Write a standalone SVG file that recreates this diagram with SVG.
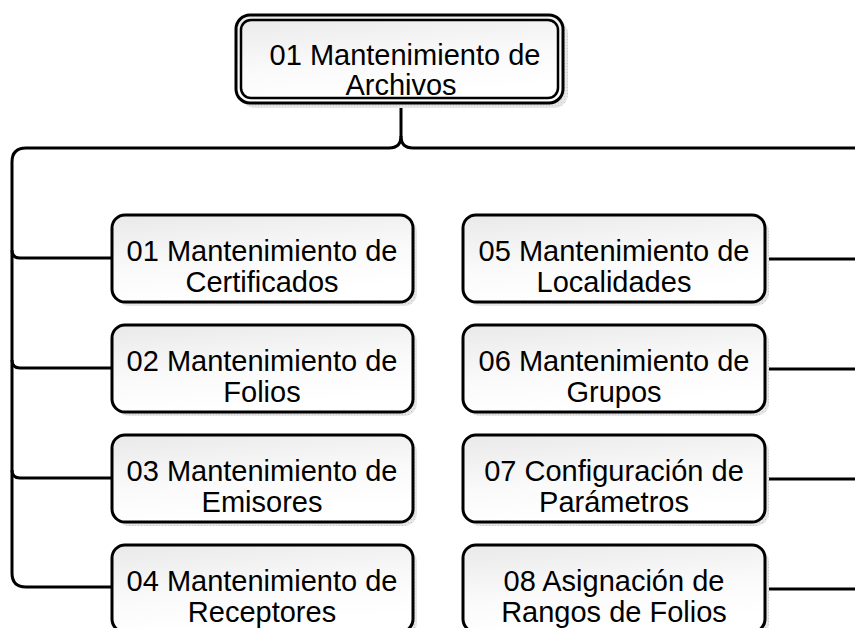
<svg xmlns="http://www.w3.org/2000/svg" width="855" height="628" viewBox="0 0 855 628">
<style>
.box{fill:url(#g);stroke:#000;stroke-width:3}
.sh{fill:url(#hatch)}
.t{font-family:"Liberation Sans",Arial,sans-serif;font-size:29px;fill:#000;text-anchor:middle}
.c{fill:none;stroke:#000;stroke-width:3}
</style>
<defs>
<linearGradient id="g" x1="0" y1="0" x2="0.3" y2="1">
<stop offset="0" stop-color="#e9e9e9"/>
<stop offset="0.6" stop-color="#fafafa"/>
<stop offset="1" stop-color="#ffffff"/>
</linearGradient>
<pattern id="hatch" width="3" height="3" patternUnits="userSpaceOnUse">
<rect width="3" height="3" fill="#e6e6e6"/>
<rect width="1" height="1" fill="#c8c8c8"/>
</pattern>
</defs>
<rect width="855" height="628" fill="#fff"/>
<g id="connectors">
<path class="c" d="M401,103 V136 Q401,148 389,148 H26 Q12,148 12,162 V573 Q12,587 26,587 H112"/>
<path class="c" d="M401,136 Q401,148 413,148 H855"/>
<path class="c" d="M12,250 Q12,258 20,258 H112"/>
<path class="c" d="M12,360 Q12,368 20,368 H112"/>
<path class="c" d="M12,470 Q12,478 20,478 H112"/>
<path class="c" d="M765,259 H855"/>
<path class="c" d="M765,369 H855"/>
<path class="c" d="M765,479 H855"/>
<path class="c" d="M765,589 H855"/>
</g>
<g id="root">
<rect class="sh" x="241" y="20" width="327" height="88" rx="14"/>
<rect class="box" x="236" y="15" width="327" height="88" rx="14"/>
<rect x="241" y="20" width="317" height="78" rx="10" fill="none" stroke="#000" stroke-width="2.5"/>
<text class="t" x="405" y="65">01 Mantenimiento de</text>
<text class="t" x="401" y="95">Archivos</text>
</g>
<g id="n01">
<rect class="sh" x="116" y="219" width="301" height="87" rx="13"/>
<rect class="box" x="112" y="215" width="301" height="87" rx="13"/>
<text class="t" x="262" y="261">01 Mantenimiento de</text>
<text class="t" x="262" y="292">Certificados</text>
</g>
<g id="n02">
<rect class="sh" x="116" y="329" width="301" height="87" rx="13"/>
<rect class="box" x="112" y="325" width="301" height="87" rx="13"/>
<text class="t" x="262" y="371">02 Mantenimiento de</text>
<text class="t" x="262" y="402">Folios</text>
</g>
<g id="n03">
<rect class="sh" x="116" y="439" width="301" height="87" rx="13"/>
<rect class="box" x="112" y="435" width="301" height="87" rx="13"/>
<text class="t" x="262" y="481">03 Mantenimiento de</text>
<text class="t" x="262" y="512">Emisores</text>
</g>
<g id="n04">
<rect class="sh" x="116" y="549" width="301" height="87" rx="13"/>
<rect class="box" x="112" y="545" width="301" height="87" rx="13"/>
<text class="t" x="262" y="591">04 Mantenimiento de</text>
<text class="t" x="262" y="622">Receptores</text>
</g>
<g id="n05">
<rect class="sh" x="467" y="219" width="302" height="87" rx="13"/>
<rect class="box" x="463" y="215" width="302" height="87" rx="13"/>
<text class="t" x="614" y="261">05 Mantenimiento de</text>
<text class="t" x="614" y="292">Localidades</text>
</g>
<g id="n06">
<rect class="sh" x="467" y="329" width="302" height="87" rx="13"/>
<rect class="box" x="463" y="325" width="302" height="87" rx="13"/>
<text class="t" x="614" y="371">06 Mantenimiento de</text>
<text class="t" x="614" y="402">Grupos</text>
</g>
<g id="n07">
<rect class="sh" x="467" y="439" width="302" height="87" rx="13"/>
<rect class="box" x="463" y="435" width="302" height="87" rx="13"/>
<text class="t" x="614" y="481">07 Configuración de</text>
<text class="t" x="614" y="512">Parámetros</text>
</g>
<g id="n08">
<rect class="sh" x="467" y="549" width="302" height="87" rx="13"/>
<rect class="box" x="463" y="545" width="302" height="87" rx="13"/>
<text class="t" x="614" y="591">08 Asignación de</text>
<text class="t" x="614" y="622">Rangos de Folios</text>
</g>
</svg>
